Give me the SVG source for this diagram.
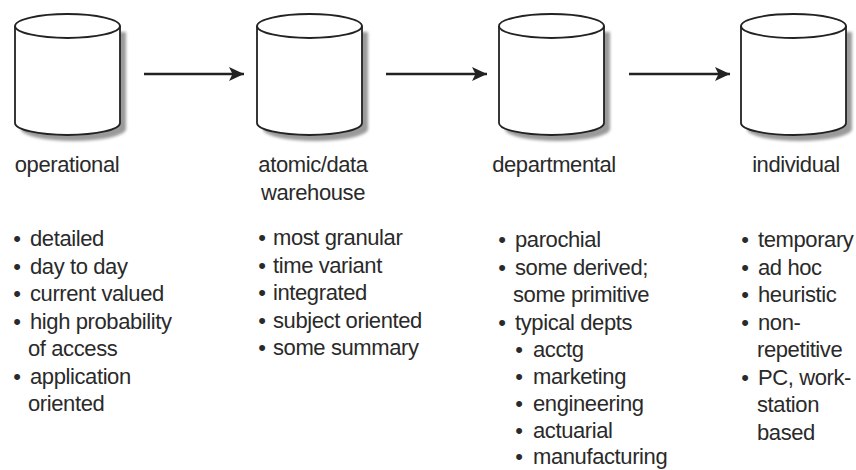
<svg xmlns="http://www.w3.org/2000/svg" xmlns:xlink="http://www.w3.org/1999/xlink" width="856" height="470" viewBox="0 0 856 470">
  <style>
    text { font-family: "Liberation Sans", Arial, Helvetica, sans-serif; font-size: 22px; letter-spacing: -0.4px; fill: #2a2a2a; }
    .label { text-anchor: middle; }
    .dot { text-anchor: middle; letter-spacing: 0; }
    .can-body { fill: #fff; stroke: #222; stroke-width: 1.8; }
    .can-shadow { fill: #9a9a9a; }
    .link { stroke: #222; stroke-width: 2.4; fill: none; }
  </style>
  <defs>
    <filter id="soft" x="-20%" y="-20%" width="140%" height="140%">
      <feGaussianBlur stdDeviation="1.6"/>
    </filter>
    <marker id="head" markerUnits="userSpaceOnUse" markerWidth="16" markerHeight="16" refX="15" refY="8" orient="auto">
      <path d="M0,1 L15,8 L0,15 L3.5,8 Z" fill="#222"/>
    </marker>
    <!-- database cylinder, 105 wide, drawn at the origin -->
    <g id="can">
      <path class="can-shadow" filter="url(#soft)" d="M6,32 L6,129 A52.5,12 0 0 0 111,129 L111,32 Z"/>
      <path class="can-body" d="M0,26 L0,123 A52.5,12 0 0 0 105,123 L105,26"/>
      <ellipse class="can-body" cx="52.5" cy="26" rx="52.5" ry="12"/>
    </g>
  </defs>

  <g id="connectors">
    <line class="link" x1="144" y1="74" x2="244" y2="74" marker-end="url(#head)"/>
    <line class="link" x1="386" y1="74" x2="487" y2="74" marker-end="url(#head)"/>
    <line class="link" x1="629" y1="74" x2="730" y2="74" marker-end="url(#head)"/>
  </g>

  <g id="operational">
    <use xlink:href="#can" x="15" y="0"/>
    <text class="label" x="67" y="172">operational</text>
    <text class="dot" x="17" y="246">•</text><text x="30" y="246">detailed</text>
    <text class="dot" x="17" y="273.5">•</text><text x="30" y="273.5">day to day</text>
    <text class="dot" x="17" y="301">•</text><text x="30" y="301">current valued</text>
    <text class="dot" x="17" y="328.5">•</text><text x="30" y="328.5">high probability</text>
    <text x="28" y="356">of access</text>
    <text class="dot" x="17" y="383.5">•</text><text x="30" y="383.5">application</text>
    <text x="28" y="411">oriented</text>
  </g>

  <g id="atomic-warehouse">
    <use xlink:href="#can" x="257" y="0"/>
    <text class="label" x="313" y="172">atomic/data</text>
    <text class="label" x="313" y="200">warehouse</text>
    <text class="dot" x="262" y="245">•</text><text x="273" y="245">most granular</text>
    <text class="dot" x="262" y="272.5">•</text><text x="273" y="272.5">time variant</text>
    <text class="dot" x="262" y="300">•</text><text x="273" y="300">integrated</text>
    <text class="dot" x="262" y="327.5">•</text><text x="273" y="327.5">subject oriented</text>
    <text class="dot" x="262" y="355">•</text><text x="273" y="355">some summary</text>
  </g>

  <g id="departmental">
    <use xlink:href="#can" x="499" y="0"/>
    <text class="label" x="554" y="172">departmental</text>
    <text class="dot" x="502" y="247">•</text><text x="515" y="247">parochial</text>
    <text class="dot" x="502" y="274.5">•</text><text x="515" y="274.5">some derived;</text>
    <text x="513" y="302">some primitive</text>
    <text class="dot" x="502" y="329.5">•</text><text x="515" y="329.5">typical depts</text>
    <text class="dot" x="519" y="357">•</text><text x="533" y="357">acctg</text>
    <text class="dot" x="519" y="384">•</text><text x="533" y="384">marketing</text>
    <text class="dot" x="519" y="411">•</text><text x="533" y="411">engineering</text>
    <text class="dot" x="519" y="438">•</text><text x="533" y="438">actuarial</text>
    <text class="dot" x="519" y="464">•</text><text x="533" y="464">manufacturing</text>
  </g>

  <g id="individual">
    <use xlink:href="#can" x="741" y="0"/>
    <text class="label" x="796" y="172">individual</text>
    <text class="dot" x="745" y="247">•</text><text x="758" y="247">temporary</text>
    <text class="dot" x="745" y="274.5">•</text><text x="758" y="274.5">ad hoc</text>
    <text class="dot" x="745" y="302">•</text><text x="758" y="302">heuristic</text>
    <text class="dot" x="745" y="329.5">•</text><text x="758" y="329.5">non-</text>
    <text x="757" y="357">repetitive</text>
    <text class="dot" x="745" y="384.5">•</text><text x="758" y="384.5">PC, work-</text>
    <text x="757" y="412">station</text>
    <text x="757" y="439.5">based</text>
  </g>
</svg>
